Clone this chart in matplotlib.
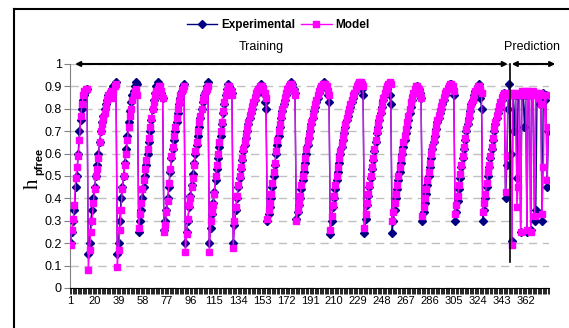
import numpy as np
import matplotlib
matplotlib.use("Agg")
import matplotlib.pyplot as plt
from matplotlib.lines import Line2D

plt.rcParams['font.family'] = ['Liberation Sans', 'DejaVu Sans']

# measured h_pfree, one line per cycle (training cycles, then the prediction set)
experimental = [
    0.20, 0.25, 0.30, 0.35, 0.45, 0.50, 0.60, 0.70, 0.75, 0.80, 0.84, 0.86, 0.88, 0.89,
    0.15, 0.20, 0.30, 0.35, 0.40, 0.45, 0.50, 0.55, 0.60, 0.65, 0.70, 0.74, 0.77, 0.80, 0.82, 0.84, 0.86, 0.87, 0.88, 0.89, 0.90, 0.91, 0.92,
    0.15, 0.20, 0.30, 0.40, 0.45, 0.50, 0.56, 0.62, 0.68, 0.74, 0.79, 0.83, 0.86, 0.88, 0.90, 0.92, 0.91,
    0.25, 0.30, 0.35, 0.40, 0.45, 0.50, 0.55, 0.60, 0.65, 0.70, 0.75, 0.80, 0.84, 0.87, 0.90, 0.92, 0.91, 0.89, 0.87, 0.85,
    0.26, 0.30, 0.35, 0.40, 0.45, 0.52, 0.58, 0.62, 0.66, 0.70, 0.74, 0.78, 0.82, 0.85, 0.88, 0.90, 0.91,
    0.20, 0.25, 0.30, 0.36, 0.41, 0.46, 0.51, 0.56, 0.60, 0.64, 0.68, 0.72, 0.76, 0.80, 0.83, 0.86, 0.88, 0.90, 0.92,
    0.20, 0.27, 0.33, 0.38, 0.43, 0.48, 0.53, 0.58, 0.63, 0.68, 0.73, 0.78, 0.82, 0.86, 0.89, 0.91, 0.90, 0.89, 0.87,
    0.20, 0.28, 0.35, 0.40, 0.45, 0.49, 0.53, 0.57, 0.61, 0.64, 0.67, 0.70, 0.73, 0.76, 0.78, 0.80, 0.82, 0.84, 0.86, 0.88, 0.89, 0.90, 0.91, 0.90, 0.87, 0.83, 0.80,
    0.30, 0.33, 0.36, 0.40, 0.45, 0.50, 0.55, 0.60, 0.64, 0.68, 0.72, 0.76, 0.79, 0.82, 0.84, 0.86, 0.88, 0.90, 0.91, 0.92, 0.91, 0.89, 0.87,
    0.31, 0.34, 0.37, 0.40, 0.44, 0.48, 0.52, 0.56, 0.60, 0.64, 0.67, 0.70, 0.73, 0.76, 0.79, 0.81, 0.83, 0.85, 0.87, 0.89, 0.90, 0.91, 0.92, 0.91, 0.89, 0.86, 0.83,
    0.24, 0.30, 0.36, 0.40, 0.44, 0.48, 0.52, 0.56, 0.60, 0.63, 0.66, 0.69, 0.72, 0.75, 0.77, 0.79, 0.81, 0.83, 0.85, 0.87, 0.88, 0.89, 0.90, 0.91, 0.91, 0.89, 0.86,
    0.245, 0.31, 0.37, 0.41, 0.45, 0.49, 0.53, 0.57, 0.61, 0.65, 0.69, 0.72, 0.75, 0.78, 0.81, 0.84, 0.86, 0.88, 0.89, 0.90, 0.86, 0.82,
    0.245, 0.30, 0.35, 0.40, 0.44, 0.48, 0.52, 0.56, 0.60, 0.63, 0.66, 0.69, 0.72, 0.75, 0.78, 0.81, 0.84, 0.86, 0.88, 0.89, 0.90, 0.89, 0.87, 0.85,
    0.30, 0.34, 0.38, 0.42, 0.46, 0.50, 0.54, 0.58, 0.62, 0.65, 0.68, 0.71, 0.74, 0.76, 0.78, 0.80, 0.82, 0.84, 0.86, 0.88, 0.89, 0.90, 0.91, 0.91, 0.89, 0.86,
    0.30, 0.34, 0.39, 0.44, 0.49, 0.54, 0.58, 0.62, 0.66, 0.70, 0.73, 0.76, 0.79, 0.82, 0.84, 0.86, 0.88, 0.89, 0.90, 0.91, 0.85, 0.80,
    0.30, 0.35, 0.40, 0.45, 0.50, 0.54, 0.58, 0.62, 0.66, 0.70, 0.73, 0.76, 0.78, 0.80, 0.82, 0.84, 0.86, 0.87, 0.40, 0.55, 0.80, 0.91,
    0.60, 0.21, 0.86, 0.70, 0.86, 0.49, 0.86, 0.86, 0.25, 0.87, 0.86, 0.72, 0.86, 0.25, 0.87, 0.86, 0.26, 0.86, 0.87, 0.30,
    0.35, 0.86, 0.86, 0.82, 0.86, 0.30, 0.87, 0.84, 0.86, 0.45, 0.70,
]

# model output for the same samples
model = [
    0.19, 0.26, 0.31, 0.37, 0.49, 0.54, 0.59, 0.66, 0.77, 0.82, 0.86, 0.88, 0.89, 0.89,
    0.08, 0.17, 0.25, 0.30, 0.38, 0.44, 0.50, 0.53, 0.58, 0.65, 0.70, 0.73, 0.76, 0.78, 0.81, 0.84, 0.86, 0.87, 0.88, 0.85, 0.88, 0.90, 0.91,
    0.095, 0.17, 0.26, 0.35, 0.44, 0.50, 0.55, 0.60, 0.66, 0.72, 0.77, 0.80, 0.84, 0.86, 0.88, 0.89, 0.86,
    0.27, 0.33, 0.38, 0.44, 0.48, 0.53, 0.57, 0.62, 0.67, 0.72, 0.76, 0.80, 0.83, 0.86, 0.88, 0.89, 0.90, 0.90, 0.88, 0.85,
    0.25, 0.28, 0.34, 0.39, 0.47, 0.53, 0.59, 0.63, 0.68, 0.72, 0.76, 0.80, 0.83, 0.86, 0.88, 0.89, 0.90,
    0.16, 0.24, 0.31, 0.37, 0.40, 0.45, 0.49, 0.55, 0.61, 0.65, 0.70, 0.74, 0.77, 0.80, 0.84, 0.86, 0.88, 0.89, 0.90,
    0.16, 0.30, 0.34, 0.37, 0.42, 0.50, 0.55, 0.60, 0.65, 0.70, 0.74, 0.79, 0.83, 0.86, 0.88, 0.90, 0.90, 0.88, 0.86,
    0.18, 0.30, 0.36, 0.41, 0.46, 0.50, 0.54, 0.58, 0.62, 0.65, 0.68, 0.71, 0.74, 0.77, 0.79, 0.81, 0.83, 0.85, 0.87, 0.88, 0.89, 0.90, 0.90, 0.90, 0.89, 0.87, 0.85,
    0.31, 0.35, 0.38, 0.42, 0.47, 0.52, 0.56, 0.61, 0.66, 0.70, 0.73, 0.77, 0.80, 0.82, 0.85, 0.87, 0.89, 0.90, 0.91, 0.91, 0.90, 0.88, 0.86,
    0.30, 0.35, 0.38, 0.41, 0.46, 0.50, 0.54, 0.58, 0.62, 0.65, 0.68, 0.71, 0.74, 0.77, 0.80, 0.82, 0.84, 0.86, 0.88, 0.89, 0.90, 0.91, 0.91, 0.91, 0.90, 0.88, 0.86,
    0.26, 0.32, 0.37, 0.41, 0.46, 0.50, 0.54, 0.58, 0.61, 0.64, 0.67, 0.70, 0.73, 0.76, 0.78, 0.80, 0.82, 0.84, 0.86, 0.87, 0.89, 0.90, 0.91, 0.92, 0.92, 0.91, 0.90,
    0.27, 0.33, 0.38, 0.42, 0.46, 0.50, 0.54, 0.58, 0.62, 0.66, 0.70, 0.73, 0.76, 0.79, 0.82, 0.85, 0.87, 0.89, 0.90, 0.91, 0.92, 0.91,
    0.30, 0.34, 0.38, 0.42, 0.46, 0.50, 0.54, 0.58, 0.61, 0.65, 0.68, 0.71, 0.74, 0.77, 0.80, 0.83, 0.85, 0.87, 0.89, 0.90, 0.90, 0.89, 0.87, 0.85,
    0.32, 0.36, 0.40, 0.44, 0.48, 0.52, 0.56, 0.60, 0.63, 0.66, 0.69, 0.72, 0.75, 0.77, 0.79, 0.81, 0.83, 0.85, 0.87, 0.88, 0.89, 0.90, 0.91, 0.91, 0.90, 0.88,
    0.33, 0.37, 0.41, 0.46, 0.51, 0.55, 0.59, 0.63, 0.67, 0.71, 0.74, 0.77, 0.80, 0.82, 0.84, 0.86, 0.88, 0.89, 0.90, 0.90, 0.89, 0.87,
    0.34, 0.38, 0.42, 0.47, 0.52, 0.55, 0.59, 0.63, 0.67, 0.71, 0.74, 0.77, 0.79, 0.81, 0.83, 0.85, 0.86, 0.87, 0.43, 0.59, 0.86, 0.87,
    0.86, 0.19, 0.87, 0.86, 0.87, 0.36, 0.45, 0.86, 0.25, 0.88, 0.87, 0.86, 0.88, 0.26, 0.88, 0.87, 0.25, 0.86, 0.88, 0.32,
    0.87, 0.86, 0.85, 0.87, 0.82, 0.33, 0.54, 0.86, 0.86, 0.48, 0.72,
]

n_train = 349          # samples used for training, the rest is prediction
label_step = 19        # category label every 19 samples

n = len(experimental)
x = np.arange(n)

fig = plt.figure(figsize=(5.69, 3.28), dpi=100)
W, H = 569, 328
ax = fig.add_axes([70 / W, 1 - 288 / H, 479 / W, 224 / H])

ax.plot(x, experimental, color='#000080', lw=1, marker='D', ms=3.8,
        mfc='#000080', mec='#000080', label='Experimental', zorder=3)
ax.plot(x, model, color='#FF00FF', lw=1, marker='s', ms=4.3,
        mfc='#FF00FF', mec='#FF00FF', label='Model', zorder=4)

ax.set_xlim(-0.5, n - 0.5)
ax.set_ylim(0, 1)

# y axis
ax.set_yticks(np.arange(0, 1.01, 0.1))
ax.set_yticklabels(['0'] + ['%.1f' % v for v in np.arange(0.1, 0.95, 0.1)] + ['1'])
ax.yaxis.grid(True, linestyle=(0, (6, 4)), color='#c0c0c0', lw=1)
ax.set_axisbelow(True)
ax.tick_params(axis='y', labelsize=9, length=4, width=0.8, color='#808080', pad=2)

# axis title: serif "h" with a bold sans subscript
fig.text(33 / W, 1 - 184 / H, 'h', rotation=90, ha='center', va='center',
         family='Liberation Serif', fontsize=15)
fig.text(39 / W, 1 - 161 / H, 'pfree', rotation=90, ha='center', va='center',
         fontweight='bold', fontsize=8)

# x axis: label every 19th category, tick between every category
ticks = np.arange(0, n, label_step)
ax.set_xticks(ticks)
ax.set_xticklabels([str(t + 1) for t in ticks])
ax.set_xticks(np.arange(-0.5, n, 1), minor=True)
ax.tick_params(axis='x', which='major', length=0, labelsize=8, pad=6)
ax.tick_params(axis='x', which='minor', length=4, width=0.6, color='black')

for side in ('top', 'right'):
    ax.spines[side].set_visible(False)
ax.spines['left'].set_color('#808080')
ax.spines['bottom'].set_color('black')

# training / prediction split
split = n_train - 0.6
ax.plot([split, split], [0.115, 1.0], color='black', lw=1.2, zorder=5, clip_on=False)
arrow = dict(arrowstyle='<|-|>', color='black', lw=1.5, mutation_scale=7,
             shrinkA=0, shrinkB=0)
ax.annotate('', xy=(3.5, 1.0), xytext=(split - 1.5, 1.0), arrowprops=arrow,
            annotation_clip=False)
ax.annotate('', xy=(split + 1.5, 1.0), xytext=(384.5, 1.0), arrowprops=arrow,
            annotation_clip=False)
fig.text(261 / W, 1 - 47 / H, 'Training', ha='center', va='center', fontsize=9)
fig.text(532 / W, 1 - 47 / H, 'Prediction', ha='center', va='center', fontsize=9)

fig.legend(loc='center', bbox_to_anchor=(278 / W, 1 - 25 / H), ncol=2,
           frameon=False, prop={'weight': 'bold', 'size': 8.5},
           handlelength=2.6, handletextpad=0.3, columnspacing=0.5)

# chart-area border
fig.add_artist(Line2D([14 / W, 1], [1 - 9 / H, 1 - 9 / H], transform=fig.transFigure,
                      color='black', lw=1.5))
fig.add_artist(Line2D([14 / W, 14 / W], [0, 1 - 9 / H], transform=fig.transFigure,
                      color='black', lw=1.5))

fig.savefig('out.png', dpi=100)
